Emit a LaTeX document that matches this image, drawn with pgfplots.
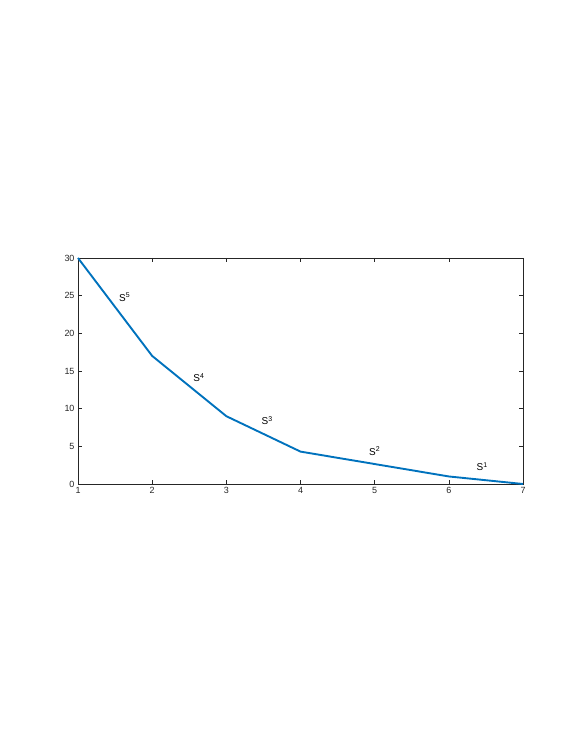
\documentclass[border=0pt]{standalone}
\usepackage{fontspec}
\setmainfont{Liberation Sans}
\usepackage{pgfplots}
\pgfplotsset{compat=1.18}
\definecolor{mblue}{rgb}{0,0.447,0.741}
\definecolor{axgray}{rgb}{0.15,0.15,0.15}

\begin{document}
\begin{tikzpicture}[x=1bp,y=1bp]
% page frame (reference keeps large white margins)
\path[use as bounding box] (0,0) rectangle (581,752);
\begin{axis}[
  at={(78bp,268bp)}, anchor=south west,
  width=445bp, height=226bp, scale only axis,
  xmin=1, xmax=7, ymin=0, ymax=30,
  xtick={1,2,3,4,5,6,7},
  ytick={0,5,10,15,20,25,30},
  tick align=inside,
  major tick length=4bp,
  axis line style={axgray, line width=0.5pt},
  every tick/.style={axgray, line width=0.5pt},
  tick label style={font=\fontsize{9}{10}\selectfont, text=axgray},
  /pgf/number format/assume math mode=true,
  clip=false,
]
\addplot[mblue, line width=1.9pt] coordinates {
  (1,30) (2,17) (3,9) (4,4.3) (5,2.65) (6,1) (7,0)
};
\node[font=\fontsize{10}{12}\selectfont] at (axis cs:1.63,24.8) {S\textsuperscript{5}};
\node[font=\fontsize{10}{12}\selectfont] at (axis cs:2.63,14.1) {S\textsuperscript{4}};
\node[font=\fontsize{10}{12}\selectfont] at (axis cs:3.55,8.4) {S\textsuperscript{3}};
\node[font=\fontsize{10}{12}\selectfont] at (axis cs:5.0,4.4) {S\textsuperscript{2}};
\node[font=\fontsize{10}{12}\selectfont] at (axis cs:6.45,2.3) {S\textsuperscript{1}};
\end{axis}
\end{tikzpicture}
\end{document}
